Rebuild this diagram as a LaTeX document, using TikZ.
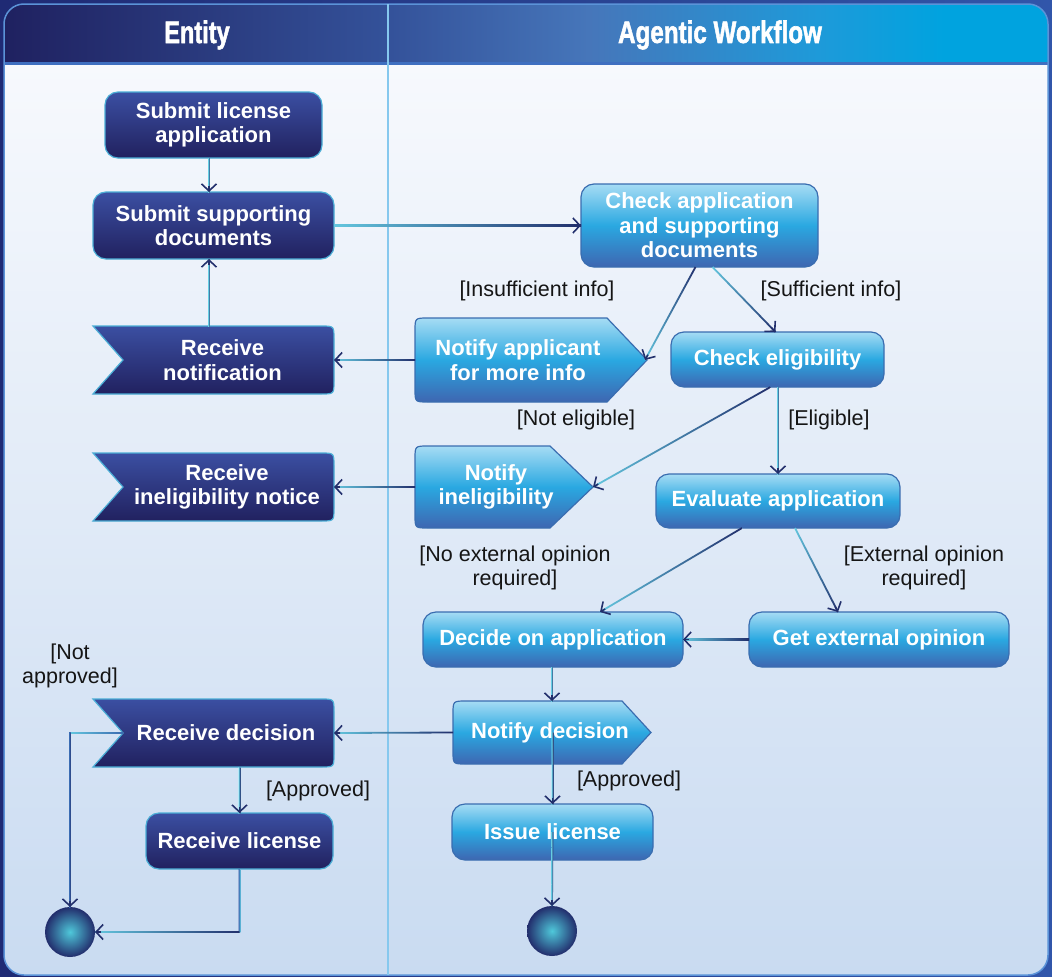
\documentclass[tikz,border=0pt]{standalone}
\usepackage{fontspec}
\usepackage{graphicx}
\setmainfont{Liberation Sans}
\newfontfamily\hdrfont[UprightFont={* Bold}, FakeBold=2]{Liberation Sans}
\usetikzlibrary{calc,arrows.meta}

\pgfdeclarelayer{bg}
\pgfdeclarelayer{shapes}
\pgfsetlayers{bg,shapes,main}

% palette
\definecolor{outL}{HTML}{1F2A74}
\definecolor{outR}{HTML}{3156AA}
\definecolor{hdA}{HTML}{1F2160}
\definecolor{hdB}{HTML}{34529A}
\definecolor{hdC}{HTML}{4676BA}
\definecolor{hdD}{HTML}{1E9AD9}
\definecolor{hdE}{HTML}{00A3DF}
\definecolor{bodyT}{HTML}{F7F9FD}
\definecolor{bodyM}{HTML}{DEE8F6}
\definecolor{bodyB}{HTML}{C9DBF1}
\definecolor{hdrline}{HTML}{3F6FC0}
\definecolor{paneledge}{HTML}{5B93D8}
\definecolor{divcol}{HTML}{86C8EE}
\definecolor{dkT}{HTML}{3B4FA2}
\definecolor{dkB}{HTML}{21215F}
\definecolor{dkEdge}{HTML}{4BAED6}
\definecolor{ltT}{HTML}{A6DCF4}
\definecolor{ltM}{HTML}{2AA8E1}
\definecolor{ltB}{HTML}{3E66B1}
\definecolor{ltEdge}{HTML}{3A6DB0}
\definecolor{cstart}{HTML}{63C6DE}
\definecolor{cmid}{HTML}{3A6AB0}
\definecolor{cend}{HTML}{222F6C}
\definecolor{ballIn}{HTML}{4FC8DA}
\definecolor{ballOut}{HTML}{222D6C}
\definecolor{labtext}{HTML}{151515}

% header band: the middle 50bp of the 100bp shading spans the band
\pgfdeclarehorizontalshading{hdrshade}{100bp}{color(0bp)=(hdA); color(25bp)=(hdA); color(43.5bp)=(hdB); color(53bp)=(hdC); color(64bp)=(hdD); color(70bp)=(hdE); color(100bp)=(hdE)}

% gradient segment from #1 to #2, colours #3 -> #4
\newcommand\gseg[4]{%
  \path let \p1=(#1), \p2=(#2),
    \n1={atan2(\y2-\y1,\x2-\x1)}, \n2={veclen(\x2-\x1,\y2-\y1)} in
    node[gbar, rotate=\n1, minimum width=\n2, left color=#3, right color=#4]
      at ($(#1)!0.5!(#2)$) {};}
% connector with arrow head
\newcommand\conn[2]{%
  \coordinate (gA) at (#1);
  \coordinate (gB) at (#2);
  \gseg{gA}{gB}{cstart}{cend}
  \draw[arrowtip] ($(gB)!6pt!(gA)$) -- (gB);}

% receive-signal outline (notch on the left)
\newcommand\recvshape[1]{%
  \path[darkbox] (#1.south west) -- ($(#1.west)+(30,0)$) -- (#1.north west)
    -- ($(#1.north east)+(-13,0)$) .. controls (#1.north east) .. ($(#1.north east)+(0,13)$)
    -- ($(#1.south east)+(0,-13)$) .. controls (#1.south east) .. ($(#1.south east)+(-13,0)$)
    -- cycle;}
% send-signal outline (point on the right), #2 = depth of the point
\newcommand\sendshape[2]{%
  \path[lightbox] ($(#1.north west)+(13,0)$) -- ($(#1.north east)+(-#2,0)$) -- (#1.east)
    -- ($(#1.south east)+(-#2,0)$) -- ($(#1.south west)+(13,0)$)
    .. controls (#1.south west) .. ($(#1.south west)+(0,-13)$)
    -- ($(#1.north west)+(0,13)$) .. controls (#1.north west) .. ($(#1.north west)+(13,0)$)
    -- cycle;}

\begin{document}
\begin{tikzpicture}[x=1pt,y=-1pt,
  box/.style={rectangle, inner sep=0pt, outer sep=0pt, text=white, align=center,
    font=\bfseries\fontsize{22}{24.5}\selectfont},
  btext/.style={text=white, align=center, inner sep=0pt,
    font=\bfseries\fontsize{22}{24.5}\selectfont},
  elabel/.style={text=labtext, align=center, inner sep=0pt,
    font=\fontsize{21.5}{24}\selectfont},
  hdrtext/.style={text=white, inner sep=0pt, font=\hdrfont\fontsize{31}{32}\selectfont},
  darkbox/.style={top color=dkT, bottom color=dkB, draw=dkEdge, line width=1.2pt},
  lightbox/.style={top color=ltT, bottom color=ltB, middle color=ltM, draw=ltEdge, line width=1.2pt},
  finalnode/.style={circle, minimum size=50pt, inner sep=0pt, outer sep=0pt,
    inner color=ballIn, outer color=ballOut},
  gbar/.style={rectangle, inner sep=0pt, outer sep=0pt, minimum height=1.8pt, draw=none},
  arrowtip/.style={draw=cend, line width=1.6pt, -{Straight Barb[length=7pt,width=15pt]}},
]
\useasboundingbox (0,0) rectangle (1052,977);

% ---------- frame, header and swimlanes ----------
\begin{pgfonlayer}{bg}
  \shade[left color=outL, right color=outR] (0,0) rectangle (1052,977);
  \begin{scope}
    \clip[rounded corners=20pt] (4,4) rectangle (1048,975);
    \shade[top color=bodyT, middle color=bodyM, bottom color=bodyB] (4,63) rectangle (1048,975);
    \shade[shading=hdrshade] (4,4) rectangle (1048,63);
    \fill[hdrline] (4,62) rectangle (1048,65);
  \end{scope}
  \draw[paneledge, line width=1.5pt, rounded corners=20pt] (4,4) rectangle (1048,975);
  \draw[divcol, line width=2.5pt] (388,4) -- (388,975);
\end{pgfonlayer}

\node[hdrtext] (hEntity) at (197,35) {\scalebox{0.76}[1]{Entity}};
\node[hdrtext] (hAgentic) at (720,35) {\scalebox{0.78}[1]{Agentic Workflow}};

% ---------- Entity lane ----------
\node[box, minimum width=217, minimum height=66] (sla) at (213.5,125) {Submit license\\application};
\node[box, minimum width=241, minimum height=67] (ssd) at (213.5,225.5) {Submit supporting\\documents};
\node[box, minimum width=241, minimum height=68,
  label={[btext,xshift=9pt]center:Receive\\notification}] (rn) at (213.5,360) {};
\node[box, minimum width=241, minimum height=68,
  label={[btext,xshift=13.5pt]center:Receive\\ineligibility notice}] (rin) at (213.5,487) {};
\node[box, minimum width=241, minimum height=68,
  label={[btext,xshift=12.5pt]center:Receive decision}] (rd) at (213.5,733) {};
\node[box, minimum width=187, minimum height=56] (rl) at (239.5,841) {Receive license};
\node[finalnode] (fl) at (70,932) {};

% ---------- Agentic Workflow lane ----------
\node[box, minimum width=237, minimum height=83] (cad) at (699.5,225.5) {Check application\\and supporting\\documents};
\node[box, minimum width=232, minimum height=84,
  label={[btext,xshift=-13pt]center:Notify applicant\\for more info}] (naf) at (531,360) {};
\node[box, minimum width=213, minimum height=55] (ce) at (777.5,359.5) {Check eligibility};
\node[box, minimum width=178, minimum height=82,
  label={[btext,xshift=-8pt]center:Notify\\ineligibility}] (ni) at (504,487) {};
\node[box, minimum width=244, minimum height=54] (ea) at (778,501) {Evaluate application};
\node[box, minimum width=260, minimum height=55] (doa) at (553,639.5) {Decide on application};
\node[box, minimum width=260, minimum height=55] (geo) at (879,639.5) {Get external opinion};
\node[box, minimum width=198, minimum height=63,
  label={[btext,xshift=-2pt]center:Notify decision}] (nd) at (552,732.5) {};
\node[box, minimum width=201, minimum height=56] (il) at (552.5,832) {Issue license};
\node[finalnode] (fr) at (552,931) {};

% ---------- action shapes ----------
\begin{pgfonlayer}{shapes}
  \path[darkbox, rounded corners=13pt] (sla.north west) rectangle (sla.south east);
  \path[darkbox, rounded corners=13pt] (ssd.north west) rectangle (ssd.south east);
  \path[darkbox, rounded corners=13pt] (rl.north west) rectangle (rl.south east);
  \recvshape{rn}
  \recvshape{rin}
  \recvshape{rd}
  \path[lightbox, rounded corners=13pt] (cad.north west) rectangle (cad.south east);
  \path[lightbox, rounded corners=13pt] (ce.north west) rectangle (ce.south east);
  \path[lightbox, rounded corners=13pt] (ea.north west) rectangle (ea.south east);
  \path[lightbox, rounded corners=13pt] (doa.north west) rectangle (doa.south east);
  \path[lightbox, rounded corners=13pt] (geo.north west) rectangle (geo.south east);
  \path[lightbox, rounded corners=13pt] (il.north west) rectangle (il.south east);
  \sendshape{naf}{40}
  \sendshape{ni}{43}
  \sendshape{nd}{29}
\end{pgfonlayer}

% ---------- guard labels ----------
\node[elabel] (lInsuf) at (537,291) {[Insufficient info]};
\node[elabel] (lSuf) at (831,291) {[Sufficient info]};
\node[elabel] (lNotEl) at (576,420) {[Not eligible]};
\node[elabel] (lEl) at (829,420) {[Eligible]};
\node[elabel] (lNoExt) at (515,568) {[No external opinion\\required]};
\node[elabel] (lExt) at (924,568) {[External opinion\\required]};
\node[elabel] (lNotAp) at (70,666) {[Not\\approved]};
\node[elabel] (lApL) at (318,791) {[Approved]};
\node[elabel] (lApR) at (629,781) {[Approved]};

% ---------- connectors ----------
\conn{[xshift=-4.5pt]sla.south}{[xshift=-4.5pt]ssd.north}
\conn{ssd.east}{cad.west}
\conn{[xshift=-4.5pt]rn.north}{[xshift=-4.5pt]ssd.south}
\conn{naf.west}{rn.east}
\conn{[xshift=-4pt]cad.south}{[xshift=-2pt]naf.east}
\conn{[xshift=13pt]cad.south}{[xshift=-2pt]ce.north}
\conn{[xshift=-7pt]ce.south}{ni.east}
\conn{ea.north |- ce.south}{ea.north}
\conn{ni.west}{rin.east}
\conn{[xshift=-36pt]ea.south}{[xshift=47pt]doa.north}
\conn{[xshift=17pt]ea.south}{[xshift=-41pt]geo.north}
\conn{geo.west}{doa.east}
\conn{nd.north |- doa.south}{nd.north}
\conn{nd.west}{rd.east}
\conn{il.north |- nd.center}{il.north}
\conn{il.center}{fr.north}
\conn{rl.north |- rd.south}{rl.north}

% not approved: from the notch of "Receive decision" to the final node
\coordinate (rdA) at ($(rd.west)+(30,0)$);
\coordinate (rdK) at (fl.north |- rdA);
\gseg{rdA}{rdK}{cstart}{cmid}
\fill[cmid] ($(rdK)+(-0.9,-0.9)$) rectangle ($(rdK)+(0.9,0.9)$);
\gseg{rdK}{fl.north}{cmid}{cend}
\draw[arrowtip] ($(fl.north)+(0,-6)$) -- (fl.north);

% received license to the final node
\coordinate (rlK) at (rl.south |- fl.east);
\gseg{rl.south}{rlK}{cmid}{cstart}
\fill[cstart] ($(rlK)+(-0.9,-0.9)$) rectangle ($(rlK)+(0.9,0.9)$);
\gseg{rlK}{fl.east}{cstart}{cend}
\draw[arrowtip] ($(fl.east)+(6,0)$) -- (fl.east);
\end{tikzpicture}
\end{document}
